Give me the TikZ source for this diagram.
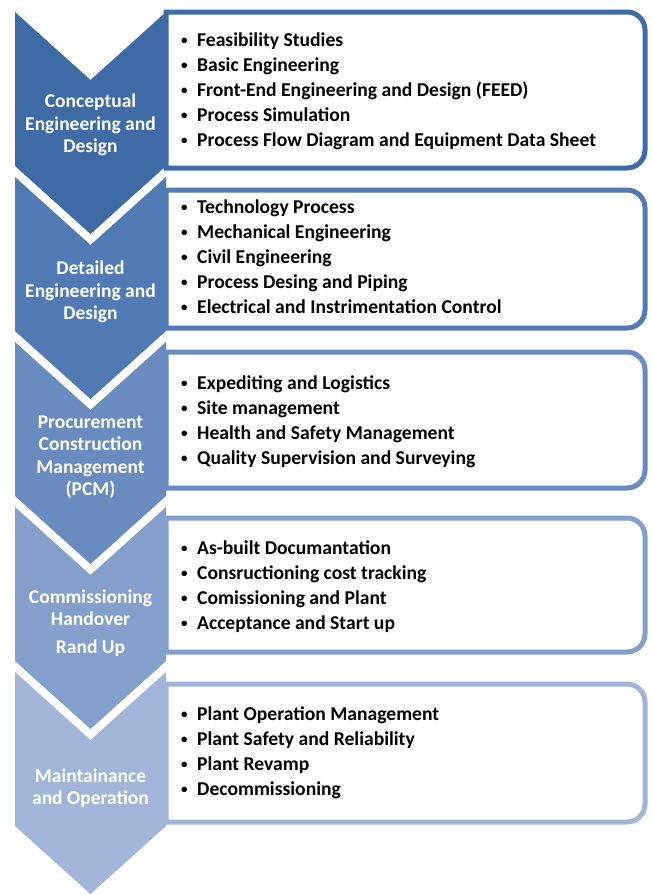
\documentclass[tikz,border=0pt]{standalone}
\usepackage{fontspec}
\setmainfont{Carlito}
\usetikzlibrary{positioning}

\definecolor{stageA}{HTML}{3E6AA6}
\definecolor{stageB}{HTML}{5179B3}
\definecolor{stageC}{HTML}{6A8BBF}
\definecolor{stageD}{HTML}{849FCB}
\definecolor{stageE}{HTML}{A0B5D8}

% small list bullet
\newcommand{\taskdot}{\makebox[18pt][l]{\hspace{2pt}\raisebox{1.5pt}{\fontsize{13}{13}\selectfont\textbullet}}}

\tikzset{
  stagelabel/.style={text=white, align=center, inner sep=0pt, font=\fontsize{19.5}{22.5}\selectfont\bfseries},
  taskbox/.style={line width=5pt, fill=white},
  task/.style={anchor=base west, inner sep=0pt, font=\fontsize{19.6}{25}\selectfont\bfseries}
}

\begin{document}
\begin{tikzpicture}[x=1pt, y=-1pt]
  \useasboundingbox (0,0) rectangle (652,894);

  % task boxes, square on the left, round on the right
  \foreach \t/\b/\col in {12/168/stageA, 190/328/stageB, 352/488/stageC, 518/652/stageD, 684/822/stageE}
    \draw[taskbox, draw=\col] (166,\t) -- (600,\t) [rounded corners=18pt] -- (645,\t) -- (645,\b) -- (600,\b) [sharp corners] -- (166,\b) -- cycle;

  % chevrons
  \foreach \t/\col in {12/stageA, 177/stageB, 342/stageC, 507/stageD, 672/stageE}
    \fill[\col] (15,\t) -- (90.5,\t+68) -- (166,\t) -- (166,\t+154) -- (90.5,\t+222) -- (15,\t+154) -- cycle;

  \node[stagelabel] (concept) at (90.5,125) {Conceptual\\Engineering and\\Design};
  \node[stagelabel] (detail) at (90.5,292) {Detailed\\Engineering and\\Design};
  \node[stagelabel] (pcm) at (90.5,457) {Procurement\\Construction\\Management\\(PCM)};
  \node[stagelabel] (handover) at (90.5,623) {Commissioning\\Handover\\[5pt]Rand Up};
  \node[stagelabel] (operate) at (90.5,788) {Maintainance\\and Operation};

  % bullet lists
  \foreach \txt [count=\k from 0] in {Feasibility Studies, Basic Engineering, Front-End Engineering and Design (FEED), Process Simulation, Process Flow Diagram and Equipment Data Sheet}
    \node[task] (conceptitem\k) at (179,46+25*\k) {\taskdot\txt};
  \foreach \txt [count=\k from 0] in {Technology Process, Mechanical Engineering, Civil Engineering, Process Desing and Piping, Electrical and Instrimentation Control}
    \node[task] (detailitem\k) at (179,213+25*\k) {\taskdot\txt};
  \foreach \txt [count=\k from 0] in {Expediting and Logistics, Site management, Health and Safety Management, Quality Supervision and Surveying}
    \node[task] (pcmitem\k) at (179,389+25*\k) {\taskdot\txt};
  \foreach \txt [count=\k from 0] in {As-built Documantation, Consructioning cost tracking, Comissioning and Plant, Acceptance and Start up}
    \node[task] (handoveritem\k) at (179,554+25*\k) {\taskdot\txt};
  \foreach \txt [count=\k from 0] in {Plant Operation Management, Plant Safety and Reliability, Plant Revamp, Decommissioning}
    \node[task] (operateitem\k) at (179,720+25*\k) {\taskdot\txt};
\end{tikzpicture}
\end{document}
